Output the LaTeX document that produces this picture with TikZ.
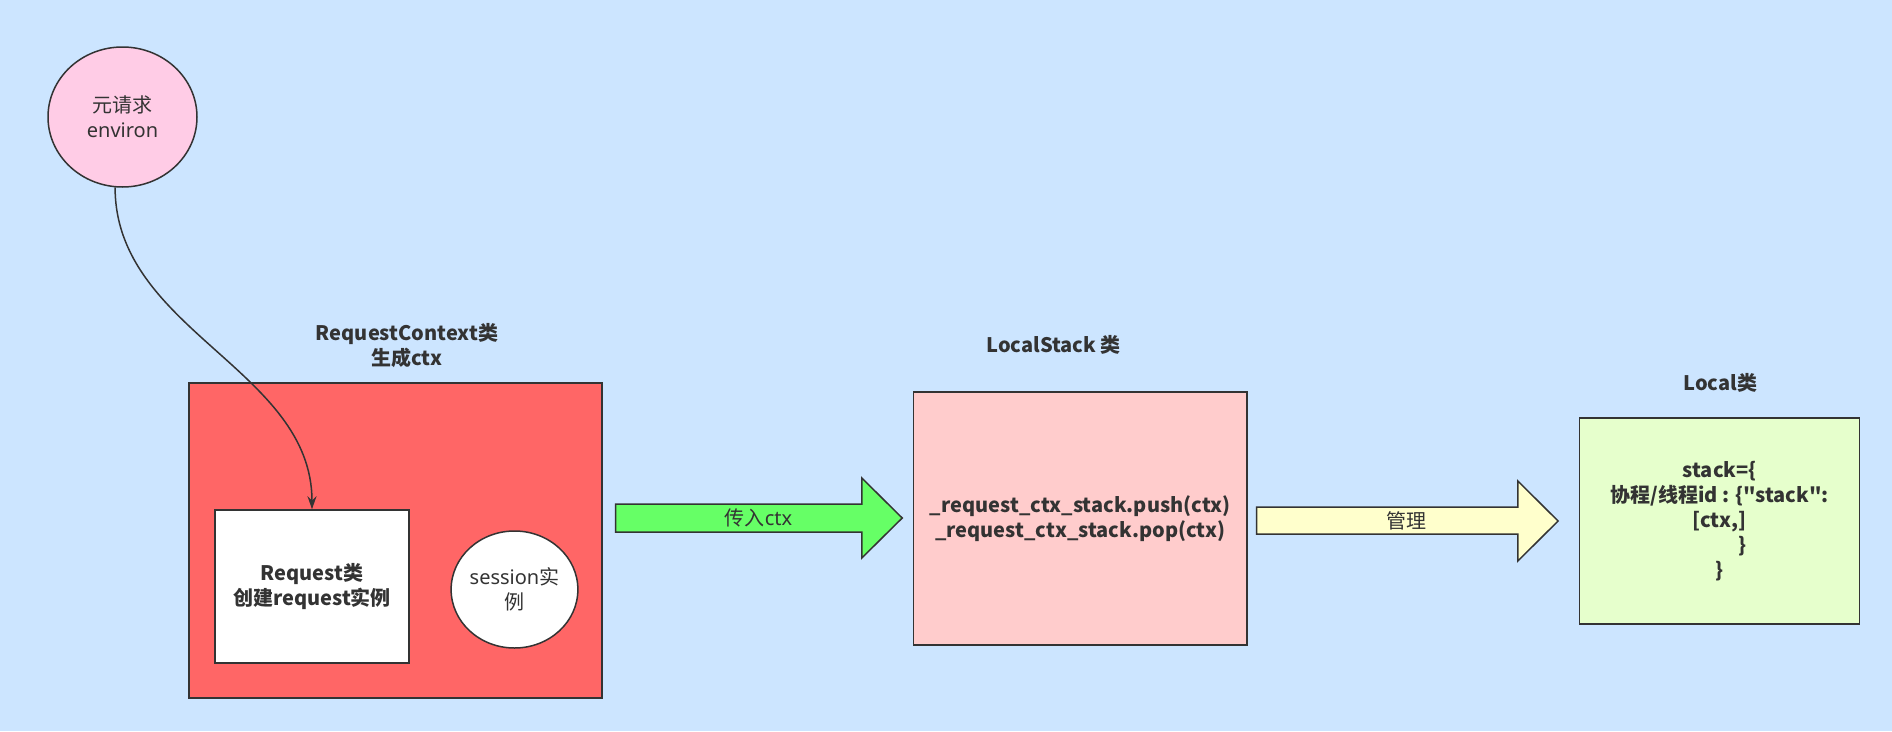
\documentclass[tikz,border=0pt]{standalone}
\usepackage{fontspec}
\newfontfamily\latfam{Noto Sans}
\newfontfamily\zhfam{Noto Sans CJK SC}
\newcommand\zh[1]{{\zhfam #1}}
\usetikzlibrary{arrows.meta,shapes.geometric}
\definecolor{bgc}{HTML}{CCE5FF}
\definecolor{inkc}{HTML}{333333}
\definecolor{pinkc}{HTML}{FFCCE6}
\definecolor{redc}{HTML}{FF6666}
\definecolor{lsc}{HTML}{FFCCCC}
\definecolor{greenc}{HTML}{66FF66}
\definecolor{yelc}{HTML}{FFFFCC}
\definecolor{locc}{HTML}{E6FFCC}
\tikzset{
  box/.style={draw=inkc,line width=1.5pt,rectangle,inner sep=0pt,text=inkc,align=center},
  oval/.style={draw=inkc,line width=1.5pt,ellipse,inner sep=0pt,text=inkc,align=center},
  txt/.style={font=\latfam\fontsize{20}{25}\selectfont},
  btxt/.style={font=\zhfam\fontsize{20}{25}\selectfont\bfseries},
  title/.style={text=inkc,align=center,inner sep=0pt,btxt},
  blockarrow/.style={draw=inkc,line width=1.5pt,line join=miter},
  conn/.style={draw=inkc,line width=1.5pt,-{Stealth[length=13pt,width=9pt]}}
}
\begin{document}
\begin{tikzpicture}[x=1pt,y=-1pt]
\path[fill=bgc,use as bounding box] (0,0) rectangle (1892,731);

% environ circle
\node[oval,fill=pinkc,minimum width=149pt,minimum height=140pt,txt] (env) at (122.5,117) {\zh{元请求}\\environ};

% RequestContext
\node[title] (rctitle) at (407,345.5) {RequestContext类\\生成ctx};
\node[box,fill=redc,minimum width=413pt,minimum height=315pt] (rc) at (395.5,540.5) {};
\node[box,fill=white,minimum width=194pt,minimum height=153pt,btxt] (req) at (312,586.5) {Request类\\创建request实例};
\node[oval,fill=white,minimum width=125pt,minimum height=117pt,txt] (sess) at (514.5,589.5) {session\zh{实}\\\zh{例}};

\draw[conn] (env.264) .. controls +(0,143) and +(0,-140) .. (req.north);

% green arrow
\draw[blockarrow,fill=greenc] (615.6,504) -- (861.8,504) -- (861.8,478) -- (902.2,518) -- (861.8,558) -- (861.8,532) -- (615.6,532) -- cycle;
\node[text=inkc,inner sep=0pt,txt] (passlbl) at (758.5,518) {\zh{传入}ctx};

% LocalStack
\node[title] (lstitle) at (1053.7,345) {LocalStack 类};
\node[box,fill=lsc,minimum width=333.4pt,minimum height=253pt,btxt] (ls) at (1080.3,518.5) {\_request\_ctx\_stack.push(ctx)\\\_request\_ctx\_stack.pop(ctx)};

% yellow arrow
\draw[blockarrow,fill=yelc] (1256.6,507) -- (1517.8,507) -- (1517.8,481) -- (1558.1,521) -- (1517.8,561) -- (1517.8,534) -- (1256.6,534) -- cycle;
\node[text=inkc,inner sep=0pt,txt] (mgrlbl) at (1406.8,521) {\zh{管理}};

% Local
\node[title] (loctitle) at (1720.3,383) {Local类};
\node[box,fill=locc,minimum width=280pt,minimum height=206pt,btxt] (loc) at (1719.7,521) {stack=\{\\协程/线程id : \{"stack":\\\relax[ctx,]\\\hspace*{46pt}\}\\\}};
\end{tikzpicture}
\end{document}
